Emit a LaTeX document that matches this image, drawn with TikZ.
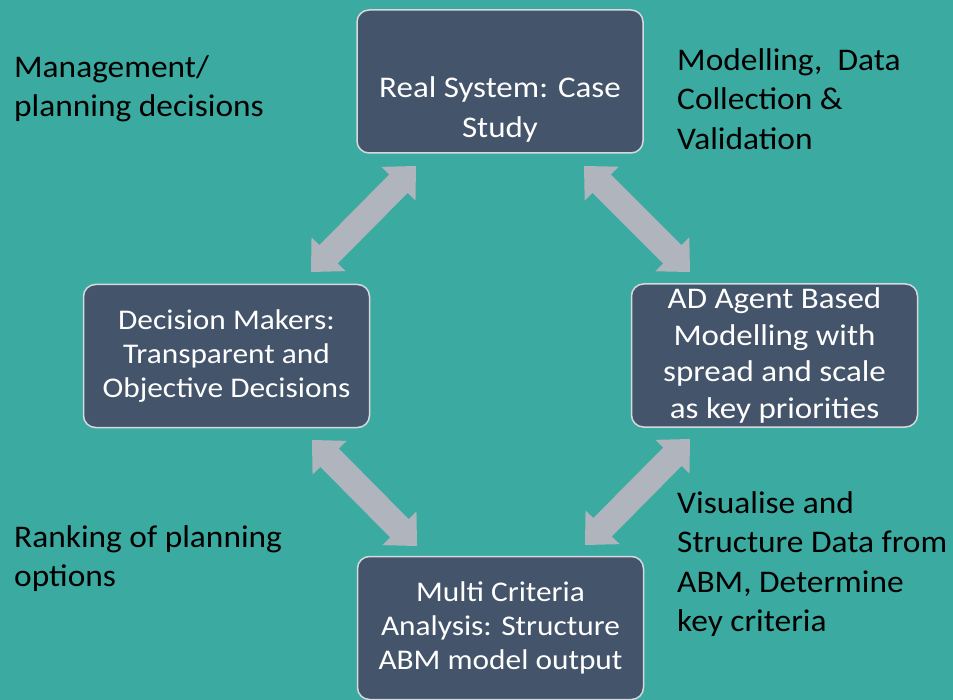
\documentclass[tikz,border=0pt]{standalone}
\usepackage{fontspec}
\setmainfont{Carlito}
\newfontfamily\boxfont[FakeStretch=1.1]{Carlito}
\newfontfamily\notefont[FakeStretch=1.06]{Carlito}
\usetikzlibrary{calc}

\definecolor{tealbg}{RGB}{59,170,161}
\definecolor{boxfill}{RGB}{68,84,106}
\definecolor{boxedge}{RGB}{214,217,222}
\definecolor{arrowgrey}{RGB}{176,180,189}

\tikzset{
  stage/.style={draw=boxedge, line width=1.5pt, fill=boxfill, rounded corners=12pt,
    minimum width=286pt, minimum height=143pt, inner sep=0pt,
    text=white, align=center},
  stagetext/.style={inner sep=0pt, text=white, align=center},
  note/.style={anchor=west, inner sep=0pt, align=left, text=black,
    font=\notefont\fontsize{31.5}{39.5}\selectfont},
}

% two-headed block arrow between two named points
\newcommand\duplexarrow[2]{%
  \fill[arrowgrey]
    (#1)
    -- ($(#1)!25pt!(#2)!24pt!90:(#2)$)
    -- ($(#1)!25pt!(#2)!13pt!90:(#2)$)
    -- ($(#2)!25pt!(#1)!13pt!-90:(#1)$)
    -- ($(#2)!25pt!(#1)!24pt!-90:(#1)$)
    -- (#2)
    -- ($(#2)!25pt!(#1)!24pt!90:(#1)$)
    -- ($(#2)!25pt!(#1)!13pt!90:(#1)$)
    -- ($(#1)!25pt!(#2)!13pt!-90:(#2)$)
    -- ($(#1)!25pt!(#2)!24pt!-90:(#2)$)
    -- cycle;}

\begin{document}
\begin{tikzpicture}[x=1pt,y=-1pt]
  \fill[tealbg] (0,0) rectangle (953,700);
  \useasboundingbox (0,0) rectangle (953,700);

  % the four stages of the cycle
  \node[stage] (real) at (500,81.5) {};
  \node[stagetext, font=\boxfont\fontsize{30}{40}\selectfont] (realtext) at (500,110)
    {Real System: Case\\Study};
  \node[stage, font=\boxfont\fontsize{28.5}{34}\selectfont] (decide) at (226.5,356)
    {Decision Makers:\\Transparent and\\Objective Decisions};
  \node[stage, font=\boxfont\fontsize{30}{36.5}\selectfont] (abm) at (774.5,355.5)
    {AD Agent Based\\Modelling with\\spread and scale\\as key priorities};
  \node[stage, font=\boxfont\fontsize{28.5}{34}\selectfont] (mca) at (500.5,628)
    {Multi Criteria\\Analysis: Structure\\ABM model output};

  % arrow end points
  \coordinate (tl1) at (311,272);  \coordinate (tl2) at (416,166);
  \coordinate (tr1) at (584,166);  \coordinate (tr2) at (690,272);
  \coordinate (br1) at (690,439);  \coordinate (br2) at (585,545);
  \coordinate (bl1) at (312,440);  \coordinate (bl2) at (417,546);

  \duplexarrow{tl1}{tl2}
  \duplexarrow{tr1}{tr2}
  \duplexarrow{br1}{br2}
  \duplexarrow{bl1}{bl2}

  % side annotations
  \node[note] (mgmt) at (14,89) {Management/\\planning decisions};
  \node[note] (collect) at (677,99) {Modelling,\ \ Data\\Collection \&\\Validation};
  \node[note] (visual) at (677,564) {Visualise and\\Structure Data from\\ABM, Determine\\key criteria};
  \node[note] (rank) at (14,558.5) {Ranking of planning\\options};
\end{tikzpicture}
\end{document}
